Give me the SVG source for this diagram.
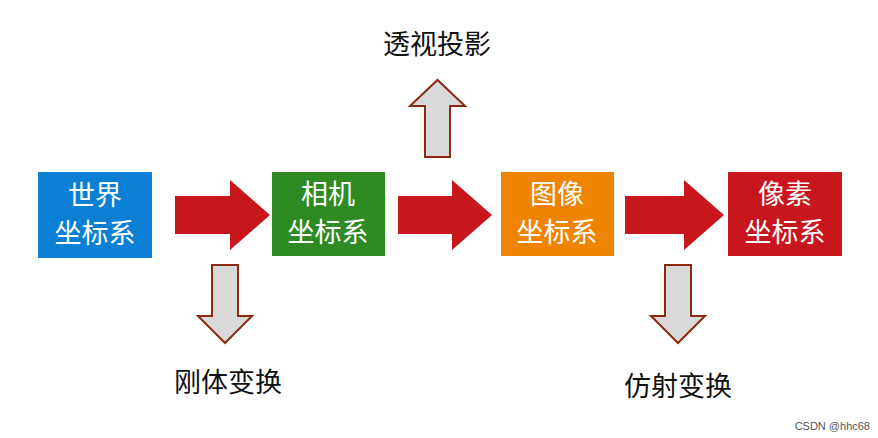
<svg xmlns="http://www.w3.org/2000/svg" width="878" height="438" viewBox="0 0 878 438">
<style>
.bt{font-family:"Noto Sans CJK SC","Liberation Sans",sans-serif;font-size:27px;fill:#fff;text-anchor:middle}
.lb{font-family:"Noto Sans CJK SC","Liberation Sans",sans-serif;font-size:27px;fill:#111;text-anchor:middle}
.ra{fill:#c8161d}
.ga{fill:#d9d9d9;stroke:#8b2a10;stroke-width:2}
</style>
<rect width="878" height="438" fill="#fff"/>
<g id="connectors">
<polygon class="ra" points="175,196 230,196 230,180 270,215 230,250 230,234 175,234"/>
<polygon class="ra" points="398,196 452,196 452,180 492,215 452,250 452,234 398,234"/>
<polygon class="ra" points="625,196 684,196 684,180 724,215 684,250 684,234 625,234"/>
<polygon class="ga" points="425,157 450,157 450,106 465,106 437.5,80 410,106 425,106"/>
<polygon class="ga" points="212,265 238,265 238,316 252,316 225,343 198,316 212,316"/>
<polygon class="ga" points="665,265 691,265 691,316 705,316 678,343 651,316 665,316"/>
</g>
<g id="n1"><rect x="38" y="172" width="114" height="86" fill="#0a7fd3"/><text class="bt" x="95" y="205">世界</text><text class="bt" x="95" y="243">坐标系</text></g>
<g id="n2"><rect x="272" y="172" width="113" height="84" fill="#2e8b24"/><text class="bt" x="328" y="204">相机</text><text class="bt" x="328" y="242">坐标系</text></g>
<g id="n3"><rect x="501" y="172" width="113" height="84" fill="#f08300"/><text class="bt" x="557" y="204">图像</text><text class="bt" x="557" y="242">坐标系</text></g>
<g id="n4"><rect x="728" y="172" width="114" height="84" fill="#c8161d"/><text class="bt" x="785" y="204">像素</text><text class="bt" x="785" y="242">坐标系</text></g>
<text class="lb" x="437" y="54">透视投影</text>
<text class="lb" x="228" y="392">刚体变换</text>
<text class="lb" x="678" y="396">仿射变换</text>
<text x="870" y="430" font-family="Liberation Sans,sans-serif" font-size="11" fill="#555" text-anchor="end">CSDN @hhc68</text>
</svg>
